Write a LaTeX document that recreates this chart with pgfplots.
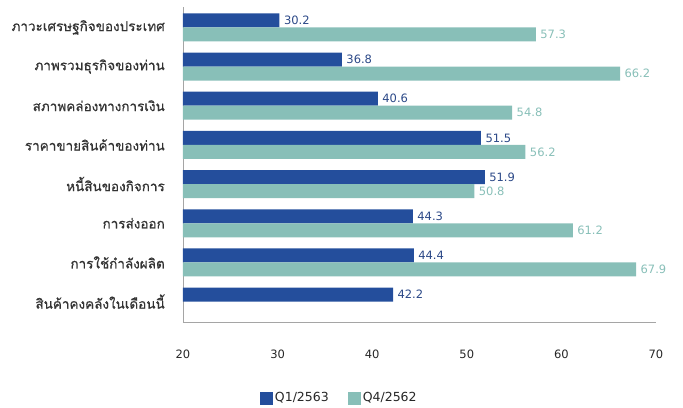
\documentclass[border=0pt]{standalone}
\usepackage{fontspec}
\setmainfont{DejaVu Sans}
\newfontfamily\thaifont[Script=Thai, FakeBold=0.6]{Loma}
\usepackage{pgfplots}
\pgfplotsset{compat=1.18}
\definecolor{qone}{RGB}{36,78,156}
\definecolor{qonetext}{RGB}{43,72,135}
\definecolor{qfour}{RGB}{136,191,184}
\definecolor{axisgray}{RGB}{165,165,165}
\begin{document}
\begin{tikzpicture}
\begin{axis}[
    scale only axis,
    width=473pt, height=315pt,
    xbar=0pt,
    bar width=14pt,
    xmin=20, xmax=70,
    ymin=-0.52, ymax=7.52,
    xtick={20,30,...,70},
    ytick={0,...,7},
    yticklabels={สินค้าคงคลังในเดือนนี้, การใช้กำลังผลิต, การส่งออก, หนี้สินของกิจการ, ราคาขายสินค้าของท่าน, สภาพคล่องทางการเงิน, ภาพรวมธุรกิจของท่าน, ภาวะเศรษฐกิจของประเทศ},
    major tick length=0pt,
    axis x line*=bottom,
    axis y line*=left,
    axis line style={draw=axisgray, line width=0.9pt, -},
    x tick label style={font=\fontsize{11.5}{13}\selectfont, text=black!85, inner sep=0pt, yshift=-28pt},
    y tick label style={font=\thaifont\fontsize{13.5}{15}\selectfont, text=black!80, inner sep=0pt, xshift=-18pt},
    /pgf/number format/assume math mode=true,
    nodes near coords={\pgfmathprintnumber[fixed,fixed zerofill,precision=1]{\pgfplotspointmeta}},
    nodes near coords align=horizontal,
    every node near coord/.append style={font=\fontsize{11.5}{13}\selectfont, xshift=1pt},
    legend style={at={(0.156,-0.241)}, anchor=west, draw=none, fill=none,
        font=\fontsize{12.5}{14}\selectfont, text=black!85,
        /tikz/every even column/.append style={column sep=17pt}},
    legend columns=2,
    legend image code/.code={\fill[#1] (0pt,-7pt) rectangle (13pt,6pt);},
]
\addplot[fill=qone, draw=none, bar shift=7pt,
    every node near coord/.append style={text=qonetext}]
    coordinates {(30.2,7) (36.8,6) (40.6,5) (51.5,4) (51.9,3) (44.3,2) (44.4,1) (42.2,0)};
\addplot[fill=qfour, draw=none, bar shift=-7pt,
    every node near coord/.append style={text=qfour}]
    coordinates {(57.3,7) (66.2,6) (54.8,5) (56.2,4) (50.8,3) (61.2,2) (67.9,1)};
\legend{Q1/2563, Q4/2562}
\end{axis}
\path (current axis.south west) ++(-183pt,-85pt) rectangle ++(683pt,407pt);
\end{tikzpicture}
\end{document}
